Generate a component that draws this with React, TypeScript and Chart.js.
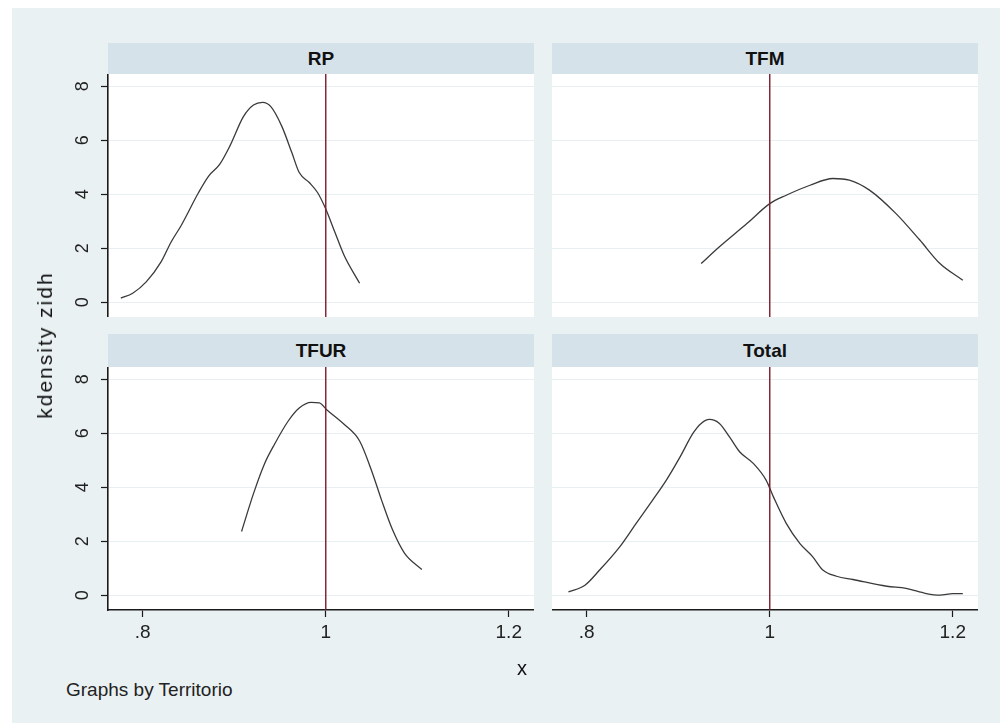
import React, { useEffect, useRef } from "react";
import { Chart, registerables } from "chart.js";

Chart.register(...registerables);

// ---------- data ----------
const panelNames = ["RP", "TFM", "TFUR", "Total"];

const rpX = [0.776, 0.789, 0.804, 0.82, 0.831, 0.842, 0.861, 0.872, 0.884, 0.895, 0.91, 0.921, 0.931, 0.94, 0.952, 0.963, 0.971, 0.982, 0.991, 1.0, 1.01, 1.02, 1.037];
const rpY = [0.15, 0.33, 0.76, 1.49, 2.23, 2.84, 4.06, 4.67, 5.1, 5.77, 6.87, 7.3, 7.4, 7.24, 6.51, 5.53, 4.8, 4.43, 4.06, 3.45, 2.59, 1.74, 0.7];

const tfmX = [0.925, 0.945, 0.975, 1.0, 1.018, 1.044, 1.069, 1.087, 1.109, 1.138, 1.164, 1.186, 1.211];
const tfmY = [1.43, 2.05, 2.91, 3.65, 3.96, 4.33, 4.58, 4.52, 4.15, 3.28, 2.3, 1.43, 0.81];

const tfurX = [0.908, 0.921, 0.933, 0.944, 0.959, 0.971, 0.984, 0.993, 1.001, 1.02, 1.037, 1.05, 1.061, 1.073, 1.086, 1.105];
const tfurY = [2.36, 3.76, 4.86, 5.59, 6.45, 6.93, 7.14, 7.12, 6.87, 6.33, 5.71, 4.62, 3.52, 2.42, 1.56, 0.95];

const totalX = [0.78, 0.798, 0.814, 0.836, 0.854, 0.872, 0.887, 0.902, 0.916, 0.925, 0.934, 0.945, 0.956, 0.967, 0.982, 0.996, 1.004, 1.018, 1.033, 1.047, 1.058, 1.073, 1.091, 1.128, 1.149, 1.171, 1.186, 1.2, 1.211];
const totalY = [0.12, 0.37, 0.93, 1.79, 2.66, 3.52, 4.26, 5.12, 5.99, 6.36, 6.51, 6.36, 5.86, 5.31, 4.88, 4.26, 3.64, 2.66, 1.91, 1.42, 0.93, 0.7, 0.58, 0.33, 0.25, 0.06, 0.0, 0.06, 0.06];

const xTickValues = [0.8, 1, 1.2];
const xTickLabels = [".8", "1", "1.2"];
const yTickValues = [0, 2, 4, 6, 8];
const yTickLabels = ["0", "2", "4", "6", "8"];
const refLineX = 1;

const X_MIN = 0.762;
const X_MAX = 1.2276;
const Y_MIN = -0.55;
const Y_MAX = 8.45;

const yTitle = "kdensity zidh";
const xTitle = "x";
const noteText = "Graphs by Territorio";

// ---------- styles ----------
const FONT = "'Liberation Sans', Arial, Helvetica, sans-serif";
const OUTER_BG = "#eaf1f3";
const STRIP_BG = "#d6e2e9";
const GRID = "#e8eff2";
const AXIS = "#1a1a1a";
const CURVE = "#3a3a3a";
const REFLINE = "#7c1a2c";

const Y_AXIS_W = 60;
const X_AXIS_H = 50;

type PanelProps = {
  plotLeft: number;
  plotTop: number;
  plotW: number;
  plotH: number;
  showY: boolean;
  showX: boolean;
  xs: number[];
  ys: number[];
};

function Panel({ plotLeft, plotTop, plotW, plotH, showY, showX, xs, ys }: PanelProps) {
  const ref = useRef<HTMLCanvasElement | null>(null);
  const yW = showY ? Y_AXIS_W : 0;
  const xH = showX ? X_AXIS_H : 0;
  const cw = plotW + yW;
  const ch = plotH + xH;

  useEffect(() => {
    if (!ref.current) return;
    const chart = new Chart(ref.current, {
      type: "scatter",
      data: {
        datasets: [
          {
            data: xs.map((x, i) => ({ x, y: ys[i] })),
            showLine: true,
            borderColor: CURVE,
            borderWidth: 1.3,
            pointRadius: 0,
            cubicInterpolationMode: "monotone",
            order: 2,
          },
          {
            data: [
              { x: refLineX, y: Y_MIN },
              { x: refLineX, y: Y_MAX },
            ],
            showLine: true,
            borderColor: REFLINE,
            borderWidth: 1.4,
            pointRadius: 0,
            order: 1,
          },
        ],
      },
      options: {
        animation: false,
        responsive: false,
        devicePixelRatio: 1,
        layout: { padding: 0 },
        plugins: { legend: { display: false }, tooltip: { enabled: false }, title: { display: false } },
        events: [],
        scales: {
          x: {
            type: "linear",
            min: X_MIN,
            max: X_MAX,
            display: showX,
            afterBuildTicks: (s: any) => {
              s.ticks = xTickValues.map((v) => ({ value: v }));
            },
            afterFit: (s: any) => {
              s.height = xH;
              s.paddingLeft = 0;
              s.paddingRight = 0;
              s.paddingTop = 0;
              s.paddingBottom = 0;
            },
            grid: {
              drawOnChartArea: false,
              drawTicks: true,
              tickLength: 7,
              tickColor: AXIS,
              tickWidth: 1.2,
            },
            border: { display: true, color: AXIS, width: 1.6 },
            ticks: {
              autoSkip: false,
              maxRotation: 0,
              minRotation: 0,
              padding: 4,
              color: "#222",
              font: { family: FONT, size: 19 },
              callback: (_v: any, i: number) => xTickLabels[i],
            },
          },
          y: {
            type: "linear",
            min: Y_MIN,
            max: Y_MAX,
            display: true,
            afterBuildTicks: (s: any) => {
              s.ticks = yTickValues.map((v) => ({ value: v }));
            },
            afterFit: (s: any) => {
              s.width = yW;
              s.paddingLeft = 0;
              s.paddingRight = 0;
              s.paddingTop = 0;
              s.paddingBottom = 0;
            },
            grid: {
              color: GRID,
              lineWidth: 1,
              drawTicks: showY,
              tickLength: 7,
              tickColor: AXIS,
              tickWidth: 1.2,
            },
            border: { display: showY, color: AXIS, width: 1.6 },
            ticks: {
              display: showY,
              autoSkip: false,
              minRotation: 90,
              maxRotation: 90,
              crossAlign: "center",
              padding: 13,
              color: "#222",
              font: { family: FONT, size: 18 },
              callback: (_v: any, i: number) => yTickLabels[i],
            },
          },
        },
      } as any,
    });
    return () => chart.destroy();
  }, []);

  return (
    <canvas
      ref={ref}
      width={cw}
      height={ch}
      style={{
        position: "absolute",
        left: plotLeft - yW,
        top: plotTop,
        width: cw,
        height: ch,
        display: "block",
      }}
    />
  );
}

function Strip({ left, top, width, height, label }: { left: number; top: number; width: number; height: number; label: string }) {
  return (
    <div
      style={{
        position: "absolute",
        left,
        top,
        width,
        height,
        background: STRIP_BG,
        fontFamily: FONT,
        fontWeight: "bold",
        fontSize: 19,
        color: "#111",
        textAlign: "center",
        lineHeight: height + "px",
      }}
    >
      {label}
    </div>
  );
}

export default function App() {
  const L = 108;
  const R = 552;
  const W = 426;
  const T1 = 74;
  const T2 = 367;
  const H = 243;
  const stripH1 = 31;
  const stripH2 = 33;

  return (
    <div style={{ position: "absolute", left: 0, top: 0, width: 1000, height: 727, background: "#ffffff", overflow: "hidden" }}>
      <div style={{ position: "absolute", left: 12, top: 8, width: 988, height: 715, background: OUTER_BG }} />

      <Strip left={L} top={T1 - stripH1} width={W} height={stripH1} label={panelNames[0]} />
      <Strip left={R} top={T1 - stripH1} width={W} height={stripH1} label={panelNames[1]} />
      <Strip left={L} top={T2 - stripH2} width={W} height={stripH2} label={panelNames[2]} />
      <Strip left={R} top={T2 - stripH2} width={W} height={stripH2} label={panelNames[3]} />

      <div style={{ position: "absolute", left: L, top: T1, width: W, height: H, background: "#fff" }} />
      <div style={{ position: "absolute", left: R, top: T1, width: W, height: H, background: "#fff" }} />
      <div style={{ position: "absolute", left: L, top: T2, width: W, height: H, background: "#fff" }} />
      <div style={{ position: "absolute", left: R, top: T2, width: W, height: H, background: "#fff" }} />

      <Panel plotLeft={L} plotTop={T1} plotW={W} plotH={H} showY={true} showX={false} xs={rpX} ys={rpY} />
      <Panel plotLeft={R} plotTop={T1} plotW={W} plotH={H} showY={false} showX={false} xs={tfmX} ys={tfmY} />
      <Panel plotLeft={L} plotTop={T2} plotW={W} plotH={H} showY={true} showX={true} xs={tfurX} ys={tfurY} />
      <Panel plotLeft={R} plotTop={T2} plotW={W} plotH={H} showY={false} showX={true} xs={totalX} ys={totalY} />

      <div
        style={{
          position: "absolute",
          left: 45,
          top: 345,
          transform: "translate(-50%, -50%) rotate(-90deg)",
          whiteSpace: "nowrap",
          fontFamily: FONT,
          fontSize: 21,
          letterSpacing: 2,
          color: "#111",
        }}
      >
        {yTitle}
      </div>
      <div
        style={{
          position: "absolute",
          left: 522,
          top: 668,
          transform: "translate(-50%, -50%)",
          whiteSpace: "nowrap",
          fontFamily: FONT,
          fontSize: 20,
          color: "#111",
        }}
      >
        {xTitle}
      </div>
      <div
        style={{
          position: "absolute",
          left: 66,
          top: 690,
          transform: "translate(0, -50%)",
          whiteSpace: "nowrap",
          fontFamily: FONT,
          fontSize: 19,
          color: "#222",
        }}
      >
        {noteText}
      </div>
    </div>
  );
}
